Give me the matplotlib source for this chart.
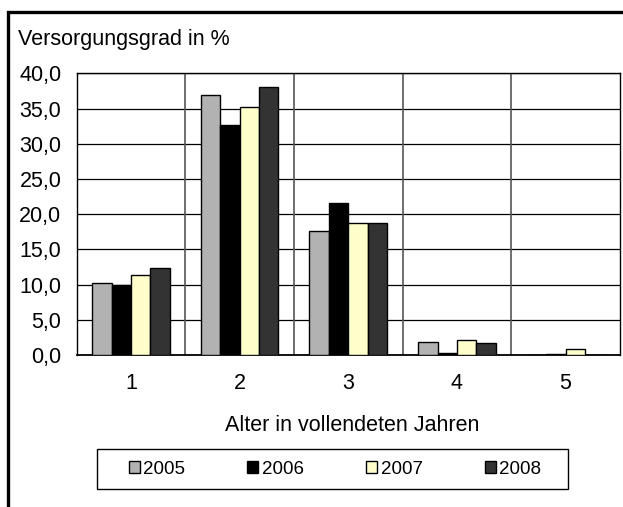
import numpy as np
import matplotlib
matplotlib.use("Agg")
import matplotlib.pyplot as plt
from matplotlib.patches import Patch, Rectangle

plt.rcParams['font.family'] = ['Liberation Sans', 'DejaVu Sans']

# Daten
kategorien = [1, 2, 3, 4, 5]
jahre = ['2005', '2006', '2007', '2008']
werte_2005 = [10.2, 36.9, 17.6, 1.9, 0.0]
werte_2006 = [9.9, 32.6, 21.6, 0.3, 0.2]
werte_2007 = [11.3, 35.2, 18.7, 2.2, 0.8]
werte_2008 = [12.4, 38.0, 18.7, 1.7, 0.0]
y_ticks = [0, 5, 10, 15, 20, 25, 30, 35, 40]
y_labels = ['0,0', '5,0', '10,0', '15,0', '20,0', '25,0', '30,0', '35,0', '40,0']

farben = ['#B2B2B2', '#000000', '#FFFFCC', '#333333']
serien = [werte_2005, werte_2006, werte_2007, werte_2008]

fig = plt.figure(figsize=(6.23, 5.07), dpi=100)
ax = fig.add_axes([0.123, 0.2998, 0.872, 0.5556])

# Gitternetz
for y in y_ticks:
    ax.axhline(y, color='black', lw=0.9, zorder=1)
for xb in np.arange(1.5, 5.5, 1.0):
    ax.axvline(xb, color='#555555', lw=1.2, zorder=1)

# Balken (Abstand 40 %)
x = np.array(kategorien, dtype=float)
breite = (1 / 1.4) / 4
for i, (werte, farbe) in enumerate(zip(serien, farben)):
    pos = x - 2 * breite + (i + 0.5) * breite
    ax.bar(pos, werte, width=breite, color=farbe, edgecolor='black', lw=1.0, zorder=3)

ax.set_xlim(0.5, 5.5)
ax.set_ylim(0, 40)
ax.set_yticks(y_ticks)
ax.set_yticklabels(y_labels)
ax.set_xticks(kategorien)
ax.set_xticklabels([str(k) for k in kategorien])
ax.tick_params(axis='y', length=0, pad=11, labelsize=15.5)
ax.tick_params(axis='x', length=0, pad=13, labelsize=15.5)
for s in ax.spines.values():
    s.set_color('black')
    s.set_linewidth(1.0)
ax.spines['bottom'].set_linewidth(1.3)

ax.set_xlabel('Alter in vollendeten Jahren', fontsize=15.5, va='center')
ax.xaxis.set_label_coords(0.507, -0.252)

fig.text(18 / 623, 1 - 45 / 507, 'Versorgungsgrad in %', fontsize=15.5, va='baseline', ha='left')

# Legende
handles = [Patch(facecolor=f, edgecolor='black', lw=1.0) for f in farben]
fig.legend(handles, jahre, loc='center', bbox_to_anchor=(335 / 623, 1 - 469 / 507),
           ncol=4, frameon=False, fontsize=13.5, handlelength=0.59, handleheight=0.59,
           handletextpad=0.2, columnspacing=3.3, borderpad=0)
fig.patches.append(Rectangle((96.7 / 623, 1 - 489 / 507), (568 - 96.7) / 623, 40 / 507,
                             transform=fig.transFigure, fill=False, edgecolor='black', lw=1.0))

# Rahmen
fig.patches.append(Rectangle((8.3 / 623, -0.2), 2.0, 0.2 + 1 - 11.5 / 507,
                             transform=fig.transFigure, fill=False, edgecolor='black', lw=2.4))

fig.savefig('out.png', dpi=100)
